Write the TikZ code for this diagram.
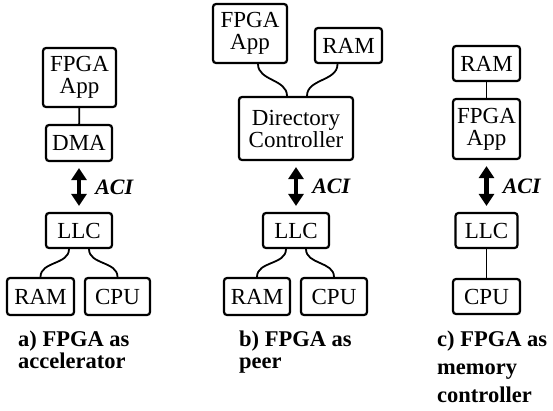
\documentclass[tikz,border=0pt]{standalone}
\usepackage{fontspec}
\setmainfont{Liberation Serif}
\usetikzlibrary{arrows.meta}

\begin{document}
\begin{tikzpicture}[x=1pt,y=-1pt,
  box/.style={draw, line width=2.2pt, rounded corners=3pt, inner sep=0pt,
    align=center, font=\fontsize{23}{22}\selectfont},
  link/.style={line width=1.8pt},
  aci/.style={line width=4.5pt, shorten <=6pt, shorten >=6pt,
    {Triangle[width=15pt,length=12pt]}-{Triangle[width=15pt,length=12pt]}},
  acilabel/.style={font=\fontsize{22}{22}\selectfont\bfseries\itshape,
    inner sep=0pt, anchor=west, xshift=14pt},
  caption/.style={font=\fontsize{22.5}{22}\selectfont\bfseries, align=left,
    inner sep=0pt, anchor=north west}]
  \useasboundingbox (0,0) rectangle (553,410);

  % a) accelerator
  \node[box, minimum width=73pt, minimum height=59pt] (appA) at (79.5,77.5) {FPGA\\App};
  \node[box, minimum width=66pt, minimum height=36pt] (dmaA) at (79,143) {DMA};
  \node[box, minimum width=66pt, minimum height=35pt] (llcA) at (79,230.5) {LLC};
  \node[box, minimum width=67pt, minimum height=37pt] (ramA) at (40.5,296.5) {RAM};
  \node[box, minimum width=65pt, minimum height=37pt] (cpuA) at (117.5,296.5) {CPU};
  \draw[link] (appA) -- (dmaA);
  \draw[aci] (dmaA) -- (llcA) node[midway, acilabel] {ACI};
  \draw[link] ([xshift=-10pt]llcA.south) to[out=-90,in=90] (ramA.north);
  \draw[link] ([xshift=10pt]llcA.south) to[out=-90,in=90] (cpuA.north);
  \node[caption] (capA) at (18,331) {a) FPGA as\\accelerator};

  % b) peer
  \node[box, minimum width=74pt, minimum height=59pt] (appB) at (250,33.5) {FPGA\\App};
  \node[box, minimum width=67pt, minimum height=35pt] (memB) at (348.5,45.5) {RAM};
  \node[box, minimum width=114pt, minimum height=63pt] (dirB) at (296,128.5) {Directory\\Controller};
  \node[box, minimum width=66pt, minimum height=35pt] (llcB) at (296,230.5) {LLC};
  \node[box, minimum width=66pt, minimum height=37pt] (ramB) at (257,296.5) {RAM};
  \node[box, minimum width=66pt, minimum height=37pt] (cpuB) at (334,296.5) {CPU};
  \draw[link] ([xshift=8pt]appB.south) to[out=-90,in=90] ([xshift=-9pt]dirB.north);
  \draw[link] ([xshift=-11pt]memB.south) to[out=-90,in=90] ([xshift=11pt]dirB.north);
  \draw[aci] (dirB) -- (llcB) node[midway, acilabel] {ACI};
  \draw[link] ([xshift=-10pt]llcB.south) to[out=-90,in=90] (ramB.north);
  \draw[link] ([xshift=10pt]llcB.south) to[out=-90,in=90] (cpuB.north);
  \node[caption] (capB) at (239,331) {b) FPGA as\\peer};

  % c) memory controller
  \node[box, minimum width=67pt, minimum height=35pt] (ramC) at (486.5,63.5) {RAM};
  \node[box, minimum width=67pt, minimum height=60pt] (appC) at (486.5,129) {FPGA\\App};
  \node[box, minimum width=62pt, minimum height=35pt] (llcC) at (486.5,230.5) {LLC};
  \node[box, minimum width=67pt, minimum height=35pt] (cpuC) at (486.5,296.5) {CPU};
  \draw[link] (ramC) -- (appC);
  \draw[aci] (appC) -- (llcC) node[midway, acilabel] {ACI};
  \draw[link] (llcC) -- (cpuC);
  \node[caption, font=\fontsize{22.5}{28}\selectfont\bfseries] (capC) at (437,331)
    {c) FPGA as\\memory\\controller};
\end{tikzpicture}
\end{document}
